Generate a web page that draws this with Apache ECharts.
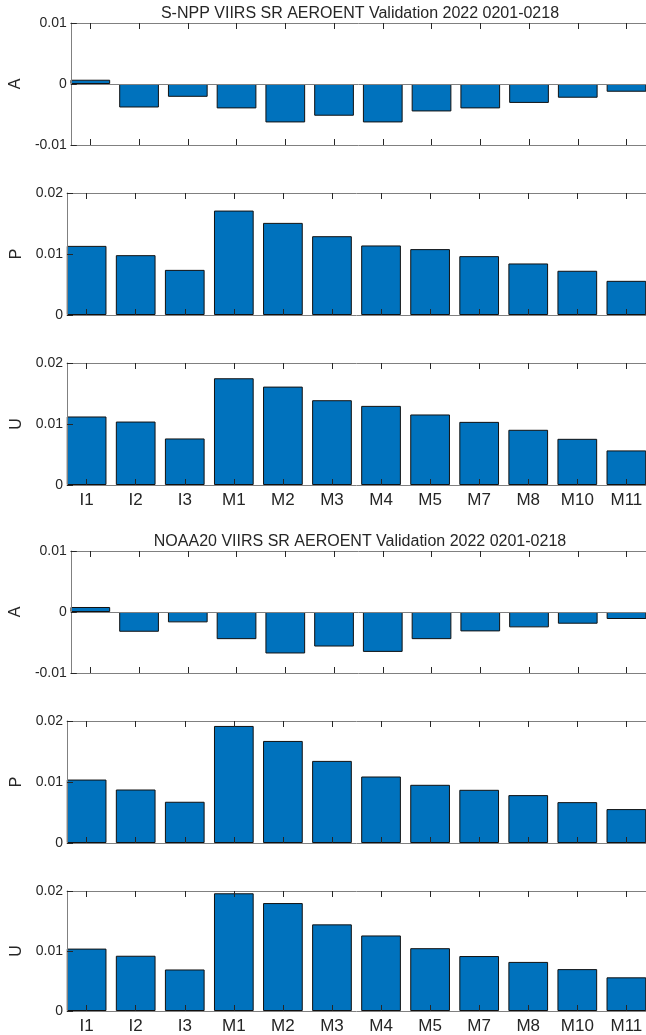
<!DOCTYPE html>
<html>
<head>
<meta charset="utf-8">
<script src="https://cdn.jsdelivr.net/npm/echarts@6/dist/echarts.min.js"></script>
<style>
  html, body { margin: 0; padding: 0; background: #fff; }
  #chart { width: 646px; height: 1035px; }
</style>
</head>
<body>
<div id="chart"></div>
<script>
// VIIRS surface reflectance validation metrics per band
const categories = ['I1', 'I2', 'I3', 'M1', 'M2', 'M3', 'M4', 'M5', 'M7', 'M8', 'M10', 'M11'];

const snppTitle = 'S-NPP VIIRS SR AEROENT Validation 2022 0201-0218';
const snppA = [0.0007, -0.00385, -0.0021, -0.0040, -0.0063, -0.0052, -0.0063, -0.0045, -0.0040, -0.0031, -0.00225, -0.00127];
const snppP = [0.01133, 0.00981, 0.0074, 0.01712, 0.0151, 0.01292, 0.0114, 0.0108, 0.00965, 0.00845, 0.00725, 0.0056];
const snppU = [0.01123, 0.0104, 0.00763, 0.0175, 0.01613, 0.0139, 0.01297, 0.01156, 0.01035, 0.00905, 0.00757, 0.00567];

const noaaTitle = 'NOAA20 VIIRS SR AEROENT Validation 2022 0201-0218';
const noaaA = [0.00082, -0.00324, -0.0017, -0.00445, -0.0068, -0.00566, -0.00654, -0.00445, -0.00318, -0.00252, -0.00192, -0.00115];
const noaaP = [0.0104, 0.00877, 0.00676, 0.01919, 0.01673, 0.01346, 0.0109, 0.00954, 0.00872, 0.00785, 0.0067, 0.00556];
const noaaU = [0.0104, 0.00921, 0.00692, 0.01962, 0.01799, 0.01444, 0.01259, 0.01047, 0.00916, 0.00818, 0.00698, 0.00561];

const FONT = '"Liberation Sans", Arial, sans-serif';
const TEXT = '#262626';
const AXIS = '#808080';
const TICK = '#262626';
const BAR = '#0072BD';

// plot box geometry (x range 0.6 .. 12.4 in band units)
const xMin = 0.6, xMax = 12.4;
const gridLeft = 67;
const band = 49.64;
const gridWidth = Math.round((xMax - xMin) * band);
const gridHeight = 122;

const panels = [
  { top: 23,  name: 'A', data: snppA, min: -0.01, max: 0.01, labels: false },
  { top: 193, name: 'P', data: snppP, min: 0,     max: 0.02, labels: false },
  { top: 363, name: 'U', data: snppU, min: 0,     max: 0.02, labels: true },
  { top: 551, name: 'A', data: noaaA, min: -0.01, max: 0.01, labels: false },
  { top: 721, name: 'P', data: noaaP, min: 0,     max: 0.02, labels: false },
  { top: 891, name: 'U', data: noaaU, min: 0,     max: 0.02, labels: true }
];

const titles = [
  { text: snppTitle, y: 13.3 },
  { text: noaaTitle, y: 541.7 }
];

const tickPos = categories.map((c, i) => i + 1);

const grid = [], xAxis = [], yAxis = [], series = [];

// axes sit on their own layer so the inward ticks stay visible over the bars
function xAxisDef(k, position, withNames) {
  return {
    type: 'value', gridIndex: k, min: xMin, max: xMax, position, zlevel: 1,
    splitLine: { show: false },
    axisLine: { show: true, onZero: false, lineStyle: { color: AXIS, width: 1 } },
    axisTick: { show: true, inside: true, length: 6, customValues: tickPos, lineStyle: { color: TICK, width: 1 } },
    axisLabel: {
      show: true, customValues: tickPos, margin: 7,
      fontFamily: FONT, fontSize: 17, color: TEXT,
      formatter: v => withNames ? (categories[Math.round(v) - 1] || '') : ''
    }
  };
}

panels.forEach((p, k) => {
  grid.push({ left: gridLeft, top: p.top, width: gridWidth, height: gridHeight, containLabel: false });

  // bottom axis (band names on the lowest panel of each group) and top box edge
  xAxis.push(xAxisDef(k, 'bottom', p.labels));
  xAxis.push(xAxisDef(k, 'top', false));

  yAxis.push({
    type: 'value', gridIndex: k, min: p.min, max: p.max, interval: 0.01, zlevel: 1,
    name: p.name, nameLocation: 'middle', nameGap: 35,
    nameTextStyle: { fontFamily: FONT, fontSize: 16, color: TEXT },
    splitLine: { show: false },
    axisLine: { show: true, onZero: false, lineStyle: { color: AXIS, width: 1 } },
    axisTick: { show: true, inside: true, length: 6, lineStyle: { color: TICK, width: 1 } },
    axisLabel: {
      margin: 4, fontFamily: FONT, fontSize: 14, color: TEXT,
      formatter: v => String(parseFloat(v.toFixed(4)))
    }
  });

  const s = {
    type: 'bar', xAxisIndex: 2 * k, yAxisIndex: k,
    barWidth: 0.8 * band,
    itemStyle: { color: BAR, borderColor: '#111', borderWidth: 1 },
    data: p.data.map((v, i) => [i + 1, v]),
    silent: true
  };
  if (p.min < 0) {
    // zero baseline
    s.markLine = {
      silent: true, symbol: 'none', label: { show: false },
      lineStyle: { color: AXIS, width: 1, type: 'solid' },
      data: [{ yAxis: 0 }]
    };
  }
  series.push(s);
});

const chart = echarts.init(document.getElementById('chart'), null, { renderer: 'canvas' });
chart.setOption({
  animation: false,
  backgroundColor: '#fff',
  grid, xAxis, yAxis, series,
  graphic: titles.map(t => ({
    type: 'text',
    x: gridLeft + gridWidth / 2,
    y: t.y,
    style: {
      text: t.text, fontFamily: FONT, fontSize: 16, fill: TEXT,
      align: 'center', verticalAlign: 'middle'
    }
  }))
});
</script>
</body>
</html>
